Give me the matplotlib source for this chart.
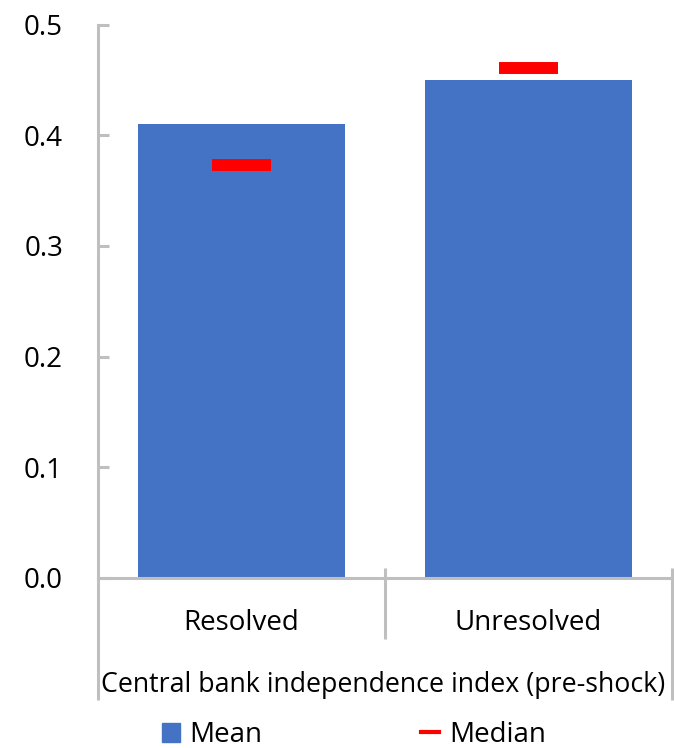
import matplotlib
matplotlib.use("Agg")
import matplotlib.pyplot as plt
from matplotlib.patches import Patch
from matplotlib.lines import Line2D

categories = ["Resolved", "Unresolved"]
mean_values = [0.41, 0.45]
median_values = [0.373, 0.461]
axis_title = "Central bank independence index (pre-shock)"
y_ticks = [0.0, 0.1, 0.2, 0.3, 0.4, 0.5]

plt.rcParams["font.family"] = ["Open Sans", "DejaVu Sans"]
plt.rcParams["font.size"] = 20

W, H = 674, 748
fig = plt.figure(figsize=(W / 100, H / 100), dpi=100)
# axes box in pixels: x 97.5..672, y 24.5..578
ax = fig.add_axes([97.5 / W, 1 - 578 / H, (672 - 97.5) / W, (578 - 24.5) / H])

grey = "#BFBFBF"
x = list(range(len(categories)))
ax.bar(x, mean_values, width=0.72, color="#4472C4", zorder=2)
ax.hlines(median_values, [i - 0.103 for i in x], [i + 0.103 for i in x],
          colors="#FF0000", linewidth=8.6, capstyle="butt", zorder=3)

ax.set_xlim(-0.5, 1.5)
ax.set_ylim(0, 0.5)
ax.set_yticks(y_ticks)
ax.set_yticklabels([f"{v:.1f}" for v in y_ticks])
ax.tick_params(axis="y", direction="in", length=8, width=2.2, color=grey, pad=24.8)
ax.set_xticks([])

for s in ["top", "right"]:
    ax.spines[s].set_visible(False)
for s in ["left", "bottom"]:
    ax.spines[s].set_color(grey)
    ax.spines[s].set_linewidth(2.2)
    ax.spines[s].set_zorder(4)

# multi-level category axis dividers
tr = ax.get_xaxis_transform()
h = 578 - 24.5
top = 10 / h
ax.plot([0.5, 0.5], [top, -61 / h], color=grey, lw=2.2, transform=tr, clip_on=False,
        solid_capstyle="butt")
ax.plot([-0.5, -0.5], [0, -122 / h], color=grey, lw=2.2, transform=tr, clip_on=False,
        solid_capstyle="butt")
ax.plot([1.5, 1.5], [top, -122 / h], color=grey, lw=2.2, transform=tr, clip_on=False,
        solid_capstyle="butt")

for i, c in enumerate(categories):
    ax.text(i, -52 / h, c, transform=tr, ha="center", va="baseline")
ax.text(0.493, -114 / h, axis_title, transform=tr, ha="center", va="baseline",
        fontsize=19.3)

handles = [Patch(color="#4472C4", label="Mean"),
           Line2D([], [], color="#FF0000", lw=3, label="Median")]
fig.legend(handles=handles, loc="center", bbox_to_anchor=(0.525, 1 - 735 / H), ncol=2,
           frameon=False, handlelength=0.65, handleheight=0.7, handletextpad=0.35,
           columnspacing=5.7, borderaxespad=0, borderpad=0)

fig.savefig("out.png", dpi=100)
